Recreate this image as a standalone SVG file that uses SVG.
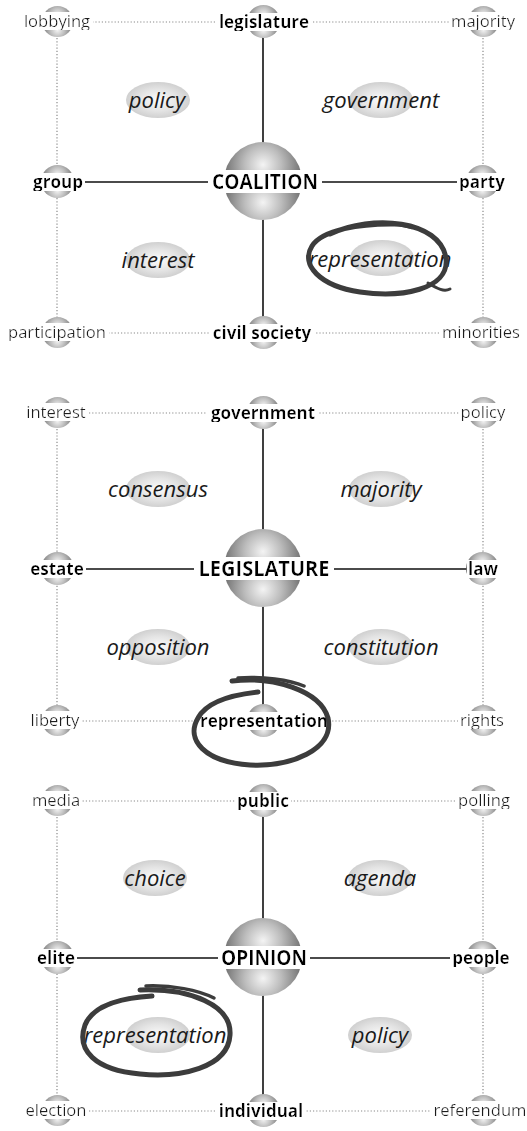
<svg xmlns="http://www.w3.org/2000/svg" width="527" height="1131" viewBox="0 0 527 1131">
<style>
.dot{stroke:#8a8a8a;stroke-width:1.2;stroke-dasharray:1.2 2;fill:none}
.sol{stroke:#111;stroke-width:1.6;fill:none}
.cor{font-family:"Open Sans","Noto Sans",sans-serif;font-size:16.6px;fill:#1a1a1a;text-anchor:middle}
.bld{font-family:"Open Sans","Noto Sans",sans-serif;font-size:17px;font-weight:700;fill:#000;text-anchor:middle}
.big{font-family:"Open Sans","Noto Sans",sans-serif;font-size:21.5px;font-weight:700;fill:#000;text-anchor:middle}
.ita{font-family:"Open Sans","Noto Sans",sans-serif;font-size:22px;font-style:italic;fill:#1a1a1a;text-anchor:middle}
.scr{stroke:#3c3c3c;fill:none;stroke-linecap:round;stroke-linejoin:round}
</style>
<defs>
<radialGradient id="gt" gradientUnits="userSpaceOnUse" cx="0" cy="-0.42" r="1.05">
<stop offset="0" stop-color="#f4f4f4"/><stop offset="0.45" stop-color="#bcbcbc"/><stop offset="1" stop-color="#6a6a6a"/>
</radialGradient>
<radialGradient id="gb" gradientUnits="userSpaceOnUse" cx="0" cy="0.55" r="1.05">
<stop offset="0" stop-color="#f4f4f4"/><stop offset="0.45" stop-color="#bcbcbc"/><stop offset="1" stop-color="#6a6a6a"/>
</radialGradient>
<radialGradient id="ge" cx="0.5" cy="0.5" r="0.5">
<stop offset="0" stop-color="#fbfbfb"/><stop offset="0.6" stop-color="#e4e4e4"/><stop offset="1" stop-color="#d0d0d0"/>
</radialGradient>
<symbol id="sph" viewBox="-1 -1 2 2">
<path d="M-1,0 A1,1 0 0 1 1,0 Z" fill="url(#gt)"/>
<path d="M-1,0 A1,1 0 0 0 1,0 Z" fill="url(#gb)"/>
</symbol>
<filter id="bg" x="-0.03" y="0.14" width="1.06" height="0.76">
<feFlood flood-color="#fff" result="f"/>
<feMerge><feMergeNode in="f"/><feMergeNode in="SourceGraphic"/></feMerge>
</filter>
</defs>

<g id="connectors">
<path class="dot" d="M57,22H483M57,333H483M57,22V333M483,22V333"/>
<path class="sol" d="M263,22V333M57,182H483"/>
<path class="dot" d="M57,413H483M57,721H483M57,413V721M483,413V721"/>
<path class="sol" d="M263,413V721M57,569H483"/>
<path class="dot" d="M57,801H483M57,1111H483M57,801V1111M483,801V1111"/>
<path class="sol" d="M263,801V1111M57,958H483"/>
</g>

<!-- Panel 1 -->
<g id="p1-lobbying"><use href="#sph" x="42" y="6" width="31" height="31"/><text class="cor" x="57" y="27" filter="url(#bg)">lobbying</text></g>
<g id="p1-legislature"><use href="#sph" x="247" y="5" width="33" height="33"/><text class="bld" x="264" y="28" filter="url(#bg)">legislature</text></g>
<g id="p1-majority"><use href="#sph" x="468" y="6" width="31" height="31"/><text class="cor" x="483" y="27" filter="url(#bg)">majority</text></g>
<g id="p1-group"><use href="#sph" x="41" y="165" width="33" height="33"/><text class="bld" x="58" y="188" filter="url(#bg)">group</text></g>
<g id="p1-coalition"><use href="#sph" x="224" y="142" width="78" height="78"/><text class="big" x="265" y="189" textLength="106" lengthAdjust="spacingAndGlyphs" filter="url(#bg)">COALITION</text></g>
<g id="p1-party"><use href="#sph" x="466" y="165" width="33" height="33"/><text class="bld" x="482" y="188" filter="url(#bg)">party</text></g>
<g id="p1-participation"><use href="#sph" x="42" y="317" width="31" height="31"/><text class="cor" x="57" y="338" filter="url(#bg)">participation</text></g>
<g id="p1-civil-society"><use href="#sph" x="247" y="316" width="33" height="33"/><text class="bld" x="262" y="339" filter="url(#bg)">civil society</text></g>
<g id="p1-minorities"><use href="#sph" x="468" y="317" width="31" height="31"/><text class="cor" x="481" y="338" filter="url(#bg)">minorities</text></g>
<g id="p1-policy"><ellipse cx="158" cy="100" rx="32" ry="18" fill="url(#ge)"/><text class="ita" x="157" y="108">policy</text></g>
<g id="p1-government"><ellipse cx="381" cy="100" rx="32" ry="18" fill="url(#ge)"/><text class="ita" x="381" y="108">government</text></g>
<g id="p1-interest"><ellipse cx="158" cy="260" rx="32" ry="18" fill="url(#ge)"/><text class="ita" x="158" y="268">interest</text></g>
<g id="p1-representation"><ellipse cx="382" cy="258" rx="32" ry="18" fill="url(#ge)"/><text class="ita" x="380" y="267">representation</text></g>

<!-- Panel 2 -->
<g id="p2-interest"><use href="#sph" x="42" y="397" width="31" height="31"/><text class="cor" x="56" y="418" filter="url(#bg)">interest</text></g>
<g id="p2-government"><use href="#sph" x="247" y="396" width="33" height="33"/><text class="bld" x="263" y="419" filter="url(#bg)">government</text></g>
<g id="p2-policy"><use href="#sph" x="468" y="397" width="31" height="31"/><text class="cor" x="483" y="418" filter="url(#bg)">policy</text></g>
<g id="p2-estate"><use href="#sph" x="41" y="552" width="33" height="33"/><text class="bld" x="57" y="575" filter="url(#bg)">estate</text></g>
<g id="p2-legislature"><use href="#sph" x="224" y="529" width="78" height="78"/><text class="big" x="264" y="576" textLength="131" lengthAdjust="spacingAndGlyphs" filter="url(#bg)">LEGISLATURE</text></g>
<g id="p2-law"><use href="#sph" x="466" y="552" width="33" height="33"/><text class="bld" x="483" y="575" filter="url(#bg)">law</text></g>
<g id="p2-liberty"><use href="#sph" x="42" y="705" width="31" height="31"/><text class="cor" x="55" y="726" filter="url(#bg)">liberty</text></g>
<g id="p2-representation"><use href="#sph" x="247" y="704" width="33" height="33"/><text class="bld" x="264" y="727" filter="url(#bg)">representation</text></g>
<g id="p2-rights"><use href="#sph" x="468" y="705" width="31" height="31"/><text class="cor" x="482" y="726" filter="url(#bg)">rights</text></g>
<g id="p2-consensus"><ellipse cx="158" cy="489" rx="32" ry="18" fill="url(#ge)"/><text class="ita" x="158" y="497">consensus</text></g>
<g id="p2-majority"><ellipse cx="381" cy="489" rx="32" ry="18" fill="url(#ge)"/><text class="ita" x="381" y="497">majority</text></g>
<g id="p2-opposition"><ellipse cx="158" cy="647" rx="32" ry="18" fill="url(#ge)"/><text class="ita" x="158" y="655">opposition</text></g>
<g id="p2-constitution"><ellipse cx="381" cy="647" rx="32" ry="18" fill="url(#ge)"/><text class="ita" x="381" y="655">constitution</text></g>

<!-- Panel 3 -->
<g id="p3-media"><use href="#sph" x="42" y="785" width="31" height="31"/><text class="cor" x="56" y="806" filter="url(#bg)">media</text></g>
<g id="p3-public"><use href="#sph" x="247" y="784" width="33" height="33"/><text class="bld" x="263" y="807" filter="url(#bg)">public</text></g>
<g id="p3-polling"><use href="#sph" x="468" y="785" width="31" height="31"/><text class="cor" x="484" y="806" filter="url(#bg)">polling</text></g>
<g id="p3-elite"><use href="#sph" x="41" y="941" width="33" height="33"/><text class="bld" x="56" y="964" filter="url(#bg)">elite</text></g>
<g id="p3-opinion"><use href="#sph" x="224" y="918" width="78" height="78"/><text class="big" x="264" y="965" textLength="86" lengthAdjust="spacingAndGlyphs" filter="url(#bg)">OPINION</text></g>
<g id="p3-people"><use href="#sph" x="466" y="941" width="33" height="33"/><text class="bld" x="481" y="964" filter="url(#bg)">people</text></g>
<g id="p3-election"><use href="#sph" x="42" y="1095" width="31" height="31"/><text class="cor" x="56" y="1116" filter="url(#bg)">election</text></g>
<g id="p3-individual"><use href="#sph" x="247" y="1094" width="33" height="33"/><text class="bld" x="261" y="1117" filter="url(#bg)">individual</text></g>
<g id="p3-referendum"><use href="#sph" x="468" y="1095" width="31" height="31"/><text class="cor" x="480" y="1116" filter="url(#bg)">referendum</text></g>
<g id="p3-choice"><ellipse cx="155" cy="878" rx="32" ry="18" fill="url(#ge)"/><text class="ita" x="155" y="886">choice</text></g>
<g id="p3-agenda"><ellipse cx="380" cy="878" rx="32" ry="18" fill="url(#ge)"/><text class="ita" x="380" y="886">agenda</text></g>
<g id="p3-representation"><ellipse cx="158" cy="1035" rx="32" ry="18" fill="url(#ge)"/><text class="ita" x="155" y="1043">representation</text></g>
<g id="p3-policy"><ellipse cx="380" cy="1035" rx="32" ry="18" fill="url(#ge)"/><text class="ita" x="380" y="1043">policy</text></g>

<g id="scribbles">
<path class="scr" stroke-width="5" d="M330,234 C372,214 440,220 446,258 C450,290 400,298 360,292 C320,286 300,265 312,246 C322,230 360,223 398,224"/>
<path class="scr" stroke-width="2.5" d="M318,240 C342,224 384,220 412,228"/>
<path class="scr" stroke-width="3" d="M428,283 C438,289 444,292 450,289"/>
<path class="scr" stroke-width="5" d="M232,681 C272,676 320,690 328,718 C335,750 290,767 250,765 C205,762 185,740 198,718 C206,703 230,695 258,692"/>
<path class="scr" stroke-width="3.5" d="M238,678 C262,676 290,680 304,686"/>
<path class="scr" stroke-width="5" d="M140,990 C190,988 232,1005 230,1035 C228,1068 180,1078 140,1074 C95,1070 76,1050 85,1025 C93,1005 120,998 152,996"/>
<path class="scr" stroke-width="3.5" d="M146,986 C172,985 198,990 214,998"/>
</g>
</svg>
